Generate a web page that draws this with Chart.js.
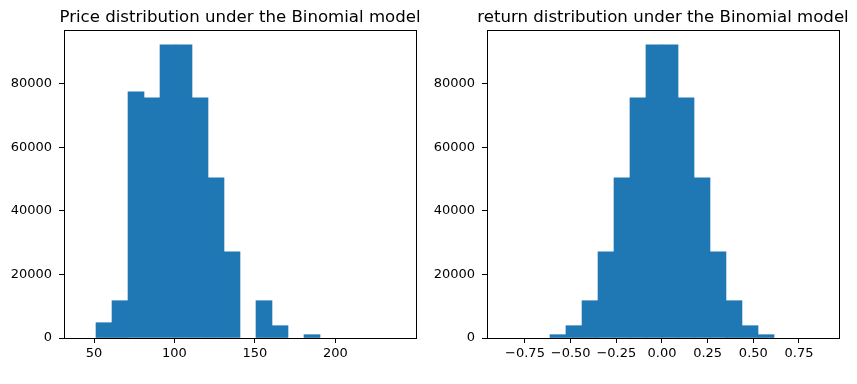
<!DOCTYPE html>
<html>
<head>
<meta charset="utf-8">
<script src="https://cdn.jsdelivr.net/npm/chart.js@4/dist/chart.umd.min.js"></script>
<style>
  html, body { margin: 0; padding: 0; background: #fff; }
  #wrap { position: relative; width: 857px; height: 384px; }
  .box { position: absolute; top: 0; height: 384px; }
</style>
</head>
<body>
<div id="wrap">
  <div class="box" style="left:0;width:428px"><canvas id="priceChart"></canvas></div>
  <div class="box" style="left:428px;width:429px"><canvas id="returnChart"></canvas></div>
</div>
<script>
// histogram bin edges (20 bins each) and counts
const priceEdges = [41.3, 51.25, 61.19, 71.14, 81.08, 91.03, 100.97, 110.92, 120.86, 130.81, 140.75,
  150.7, 160.64, 170.59, 180.53, 190.48, 200.42, 210.37, 220.31, 230.26, 240.2];
const priceCounts = [0, 4810, 11730, 77450, 75570, 92230, 92230, 75570, 50410, 27140, 0,
  11730, 3870, 0, 1040, 0, 0, 0, 0, 0];

const returnEdges = [-0.876, -0.788, -0.701, -0.613, -0.526, -0.438, -0.35, -0.263, -0.175, -0.088, 0,
  0.088, 0.175, 0.263, 0.35, 0.438, 0.526, 0.613, 0.701, 0.788, 0.876];
const returnCounts = [0, 0, 0, 1040, 3870, 11730, 27140, 50410, 75570, 92230, 92230,
  75570, 50410, 27140, 11730, 3870, 1040, 0, 0, 0];

const priceTicks = [50, 100, 150, 200];
const returnTicks = [-0.75, -0.5, -0.25, 0, 0.25, 0.5, 0.75];
const countTicks = [0, 20000, 40000, 60000, 80000];

const BLUE = '#1f77b4';
const FONT = 'DejaVu Sans';

// matplotlib-like box around the axes, and a title centred on the axes
const frame = {
  id: 'frame',
  afterDraw(chart, args, opts) {
    const a = chart.chartArea, ctx = chart.ctx;
    ctx.save();
    ctx.strokeStyle = '#000';
    ctx.lineWidth = 1;
    ctx.strokeRect(Math.round(a.left) + 0.5, Math.round(a.top) + 0.5,
      Math.round(a.right - a.left), Math.round(a.bottom - a.top));
    ctx.fillStyle = '#000';
    ctx.font = '16.6px "' + FONT + '"';
    ctx.textAlign = 'center';
    ctx.textBaseline = 'alphabetic';
    ctx.fillText(opts.text, (a.left + a.right) / 2, 22);
    ctx.restore();
  }
};

function histPoints(edges, counts) {
  return counts.map((c, i) => ({ x: (edges[i] + edges[i + 1]) / 2, y: c || null }));
}

function makeHist(id, title, edges, counts, xTicks, xFmt, xMin, xMax, yWidth, padRight) {
  return new Chart(document.getElementById(id), {
    type: 'bar',
    data: {
      datasets: [{
        data: histPoints(edges, counts),
        backgroundColor: BLUE,
        borderWidth: 0,
        barPercentage: 1,
        categoryPercentage: 1
      }]
    },
    options: {
      responsive: true,
      maintainAspectRatio: false,
      animation: false,
      layout: { padding: { left: 0, right: padRight, top: 30, bottom: 0 } },
      plugins: {
        legend: { display: false },
        tooltip: { enabled: false },
        title: { display: false },
        frame: { text: title }
      },
      scales: {
        x: {
          type: 'linear',
          min: xMin,
          max: xMax,
          offset: false,
          border: { display: false },
          grid: { offset: false, drawOnChartArea: false, tickLength: 5, tickColor: '#000', tickWidth: 1 },
          afterBuildTicks: s => { s.ticks = xTicks.map(v => ({ value: v })); },
          afterFit: s => { s.height = 46; },
          ticks: {
            color: '#000',
            padding: 3,
            maxRotation: 0,
            autoSkip: false,
            font: { family: FONT, size: 13 },
            callback: xFmt
          }
        },
        y: {
          min: 0,
          max: 96900,
          border: { display: false },
          grid: { offset: false, drawOnChartArea: false, tickLength: 5, tickColor: '#000', tickWidth: 1 },
          afterBuildTicks: s => { s.ticks = countTicks.map(v => ({ value: v })); },
          afterFit: s => { s.width = yWidth; },
          ticks: {
            color: '#000',
            padding: 7,
            font: { family: FONT, size: 13 },
            callback: v => String(v)
          }
        }
      }
    },
    plugins: [frame]
  });
}

makeHist('priceChart', 'Price distribution under the Binomial model',
  priceEdges, priceCounts, priceTicks, v => String(v), 31.35, 250.16, 64, 12);

makeHist('returnChart', 'return distribution under the Binomial model',
  returnEdges, returnCounts, returnTicks,
  v => (Math.abs(v) < 1e-9 ? 0 : v).toFixed(2).replace('-', '\u2212'),
  -0.958, 0.969, 59, 18);
</script>
</body>
</html>
